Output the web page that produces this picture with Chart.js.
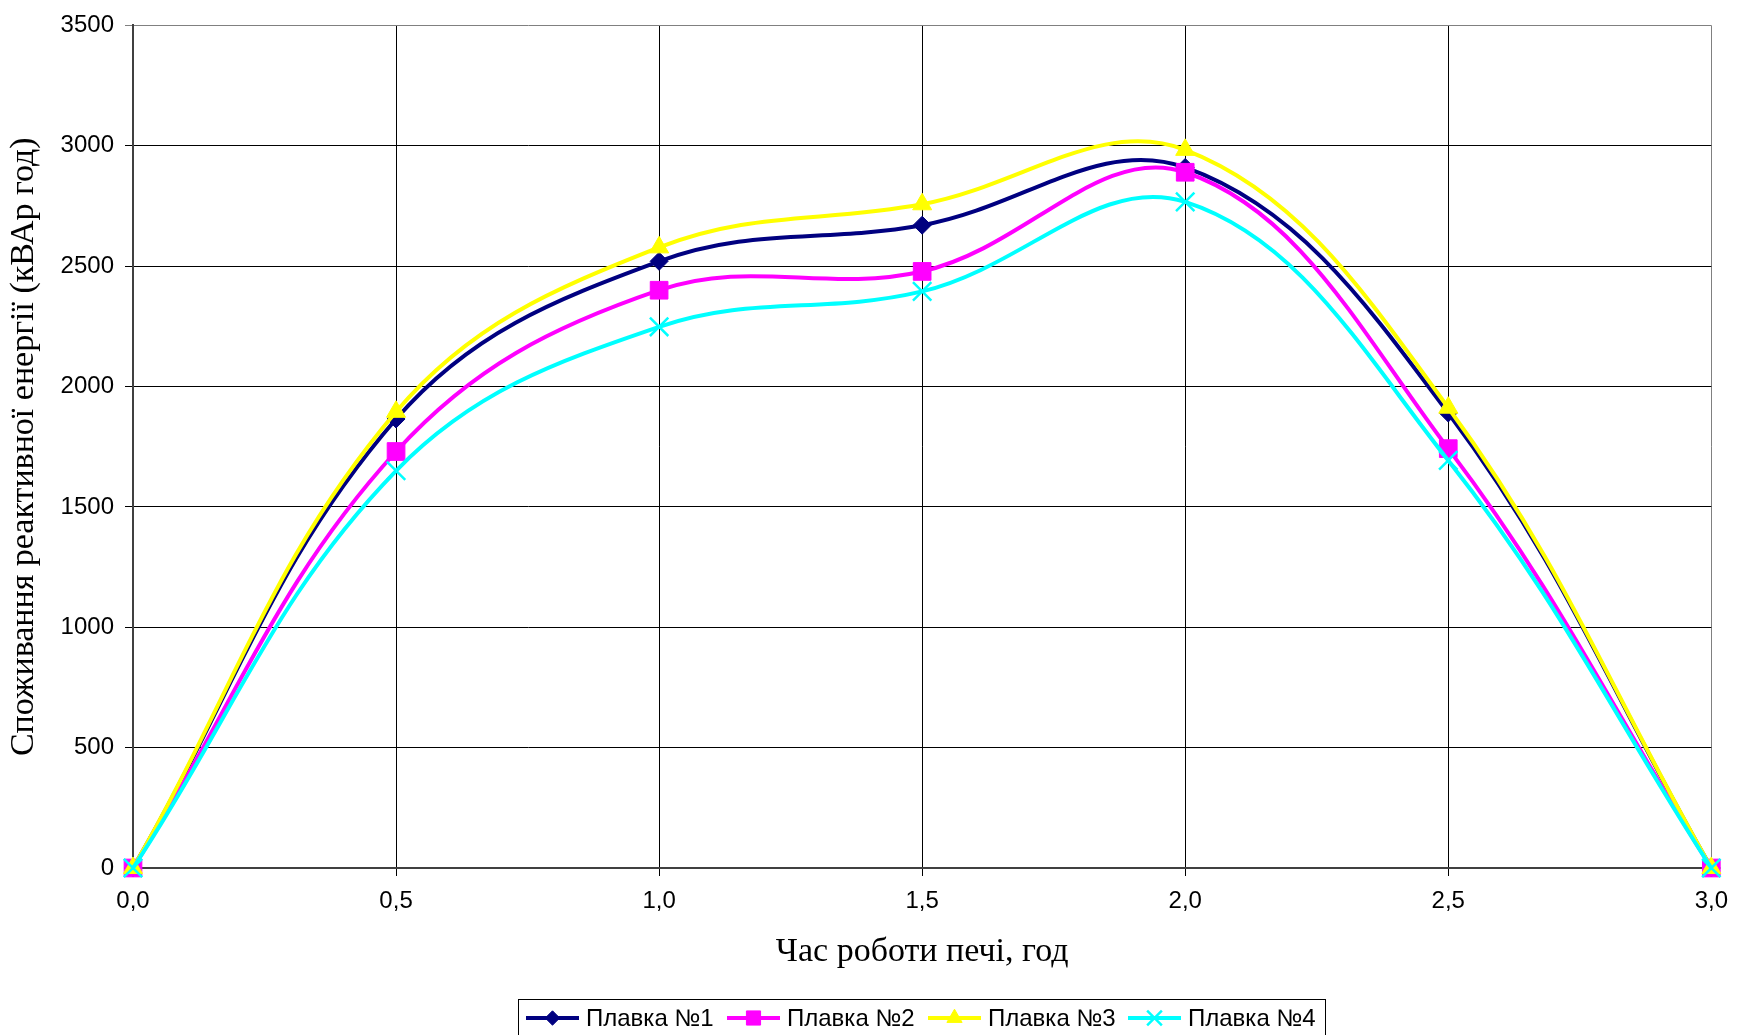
<!DOCTYPE html>
<html>
<head>
<meta charset="utf-8">
<script src="https://cdn.jsdelivr.net/npm/chart.js@4.4.1/dist/chart.umd.min.js"></script>
<style>
  body { margin: 0; background: #fff; }
  #wrap { width: 1739px; height: 1035px; }
</style>
</head>
<body>
<div id="wrap"><canvas id="chart" width="1739" height="1035"></canvas></div>
<script>
// hours of furnace operation
const hours = [0, 0.5, 1.0, 1.5, 2.0, 2.5, 3.0];
// reactive energy, kVAr*h, per melt
const melt1 = [0, 1865, 2520, 2670, 2910, 1890, 0];
const melt2 = [0, 1730, 2400, 2478, 2890, 1742, 0];
const melt3 = [0, 1895, 2578, 2757, 2983, 1912, 0];
const melt4 = [0, 1650, 2248, 2395, 2767, 1693, 0];
const seriesNames = ["Плавка №1", "Плавка №2", "Плавка №3", "Плавка №4"];
const yTicks = [0, 500, 1000, 1500, 2000, 2500, 3000, 3500];

const colors = ["#000080", "#FF00FF", "#FFFF00", "#00FFFF"];
const markers = [
  { style: "rectRot", radius: 9 },
  { style: "rect", radius: 12.5 },
  { style: "triangle", radius: 11 },
  { style: "crossRot", radius: 13 }
];

function points(values) {
  return hours.map(function(h, i) { return { x: h, y: values[i] }; });
}

const allValues = [melt1, melt2, melt3, melt4];
const datasets = allValues.map(function(vals, i) {
  const cross = markers[i].style === "crossRot";
  return {
    label: seriesNames[i],
    data: points(vals),
    borderColor: colors[i],
    backgroundColor: colors[i],
    borderWidth: 4,
    tension: 0.38,
    clip: false,
    pointStyle: markers[i].style,
    pointRadius: markers[i].radius,
    pointBorderWidth: cross ? 2.5 : 1,
    pointBackgroundColor: colors[i],
    pointBorderColor: colors[i],
    order: 4 - i // last series drawn on top, like the original
  };
});

// legend box with line + marker samples, drawn under the axis title
const boxLegend = {
  id: "boxLegend",
  afterDraw: function(chart) {
    const ctx = chart.ctx;
    ctx.save();
    ctx.strokeStyle = "#000";
    ctx.lineWidth = 1;
    ctx.strokeRect(518.5, 999.5, 807, 45);
    const startX = [526, 727, 928, 1128];
    const y = 1018;
    ctx.font = "24px 'Liberation Sans', Arial, sans-serif";
    ctx.textBaseline = "middle";
    for (var i = 0; i < seriesNames.length; i++) {
      const x0 = startX[i];
      ctx.strokeStyle = colors[i];
      ctx.lineWidth = 4;
      ctx.beginPath();
      ctx.moveTo(x0, y);
      ctx.lineTo(x0 + 53, y);
      ctx.stroke();
      ctx.fillStyle = colors[i];
      ctx.lineWidth = markers[i].style === "crossRot" ? 2.5 : 1;
      Chart.helpers.drawPoint(ctx, {
        pointStyle: markers[i].style,
        radius: markers[i].radius * 0.8,
        borderWidth: ctx.lineWidth,
        rotation: 0
      }, x0 + 26.5, y);
      ctx.fillStyle = "#000";
      ctx.fillText(seriesNames[i], x0 + 60, y + 1);
    }
    ctx.restore();
  }
};

const ctx = document.getElementById("chart").getContext("2d");
const chart = new Chart(ctx, {
  type: "line",
  data: { datasets: datasets },
  options: {
    responsive: false,
    animation: false,
    devicePixelRatio: 1,
    layout: { padding: { top: 21, right: 27, left: 0, bottom: 0 } },
    plugins: {
      legend: { display: false },
      tooltip: { enabled: false }
    },
    scales: {
      x: {
        type: "linear",
        min: 0,
        max: 3,
        afterFit: function(scale) { scale.height = 167; },
        afterBuildTicks: function(scale) {
          scale.ticks = hours.map(function(h) { return { value: h }; });
        },
        ticks: {
          color: "#000",
          padding: 11,
          maxRotation: 0,
          font: { family: "'Liberation Sans', Arial, sans-serif", size: 24 },
          callback: function(v) { return v.toFixed(1).replace(".", ","); }
        },
        grid: {
          color: function(c) { return c.tick && c.tick.value === 3 ? "#808080" : "#000"; },
          lineWidth: 1,
          tickLength: 8
        },
        border: { color: "#404040", width: 2 },
        title: {
          display: true,
          text: "Час роботи печі, год",
          color: "#000",
          font: { family: "'Liberation Serif', 'Times New Roman', serif", size: 34 },
          padding: { top: 63, bottom: 63 }
        }
      },
      y: {
        min: 0,
        max: 3500,
        afterFit: function(scale) { scale.width = 133; },
        afterBuildTicks: function(scale) {
          scale.ticks = yTicks.map(function(v) { return { value: v }; });
        },
        ticks: {
          color: "#000",
          padding: 11,
          font: { family: "'Liberation Sans', Arial, sans-serif", size: 24 },
          callback: function(v) { return String(v); }
        },
        grid: {
          color: function(c) { return c.tick && c.tick.value === 3500 ? "#808080" : "#000"; },
          lineWidth: 1,
          tickLength: 8
        },
        border: { color: "#404040", width: 2 },
        title: {
          display: true,
          text: "Споживання реактивної енергії (кВАр год)",
          color: "#000",
          font: { family: "'Liberation Serif', 'Times New Roman', serif", size: 34 },
          padding: { top: 4, bottom: 4 }
        }
      }
    }
  },
  plugins: [boxLegend]
});
</script>
</body>
</html>
